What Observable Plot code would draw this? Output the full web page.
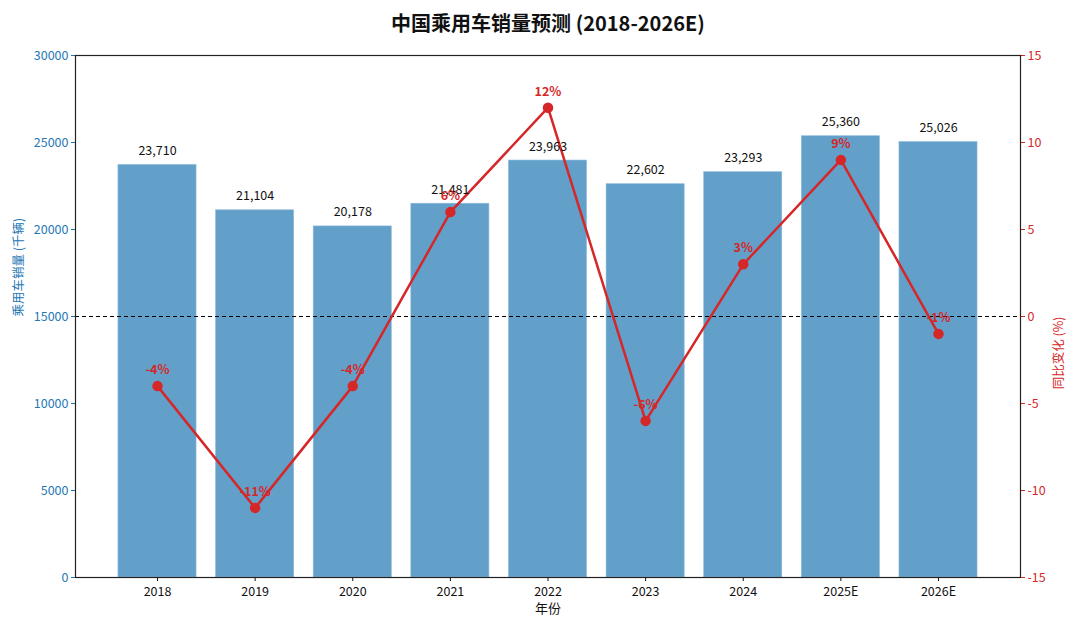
<!DOCTYPE html>
<html><head><meta charset="utf-8">
<script src="https://cdn.jsdelivr.net/npm/d3@7"></script>
<script src="https://cdn.jsdelivr.net/npm/@observablehq/plot@0.6"></script>
<style>
body{margin:0;background:#fff;font-family:"Noto Sans CJK SC","Noto Sans",sans-serif;}
#title{height:45px;line-height:45px;text-align:center;font-size:20px;font-weight:bold;color:#111;padding-left:16px;}
</style></head>
<body>
<div id="title">中国乘用车销量预测 (2018-2026E)</div>
<div id="chart"></div>
<script>
const years = ["2018","2019","2020","2021","2022","2023","2024","2025E","2026E"];
const sales = [23710, 21104, 20178, 21481, 23963, 22602, 23293, 25360, 25026];
const yoy = [-4, -11, -4, 6, 12, -6, 3, 9, -1];
const leftTicks = [0, 5000, 10000, 15000, 20000, 25000, 30000];
const rightTicks = [-15, -10, -5, 0, 5, 10, 15];

const blue = "#1f77b4", barFill = "#62a0ca", red = "#d62728";
const toY = p => (p + 15) * 1000;
const data = years.map((y, i) => ({year: y, sales: sales[i], yoy: yoy[i], yy: toY(yoy[i])}));

const chart = Plot.plot({
  width: 1080, height: 585,
  marginLeft: 75, marginRight: 60, marginTop: 10, marginBottom: 53,
  style: {fontFamily: '"Noto Sans CJK SC","Noto Sans",sans-serif', fontSize: "12px"},
  x: {type: "band", domain: years, paddingInner: 0.2, paddingOuter: 0.44, round: false},
  y: {domain: [0, 30000]},
  marks: [
    Plot.barY(data, {x: "year", y: "sales", fill: barFill, stroke: "#8bbbdc", strokeWidth: 0.6}),
    Plot.ruleY([15000], {stroke: "#000", strokeWidth: 1, strokeDasharray: "4,3"}),
    Plot.line(data, {x: "year", y: "yy", stroke: red, strokeWidth: 2.5}),
    Plot.dot(data, {x: "year", y: "yy", r: 4.5, fill: red, stroke: red}),
    Plot.text(data, {x: "year", y: "sales", text: d => d3.format(",")(d.sales), lineAnchor: "bottom", dy: -10, fill: "#111", fontSize: 12.5}),
    Plot.text(data, {x: "year", y: "yy", text: d => d.yoy + "%", lineAnchor: "bottom", dy: -12, fill: red, fontSize: 12.5, fontWeight: "bold"}),
    Plot.axisY({ticks: leftTicks, tickFormat: d => String(d), tickSize: 4, tickPadding: 3, label: null, color: blue, fontSize: 12.5}),
    Plot.axisY({anchor: "right", ticks: leftTicks, tickFormat: d => String(d / 1000 - 15), tickSize: 4, tickPadding: 3, label: null, color: red, fontSize: 12.5}),
    Plot.axisX({tickSize: 4, tickPadding: 6, label: null, fontSize: 12.5, color: "#111"}),
    Plot.frame({stroke: "#222", strokeWidth: 1.2}),
    Plot.text(["乘用车销量 (千辆)"], {frameAnchor: "left", dx: -57, rotate: -90, fill: blue, fontSize: 12.5}),
    Plot.text(["同比变化 (%)"], {frameAnchor: "right", dx: 38, rotate: -90, fill: red, fontSize: 12.5}),
    Plot.text(["年份"], {frameAnchor: "bottom", lineAnchor: "middle", dy: 31, fill: "#111", fontSize: 13})
  ]
});
document.getElementById("chart").appendChild(chart);
</script>
</body></html>
